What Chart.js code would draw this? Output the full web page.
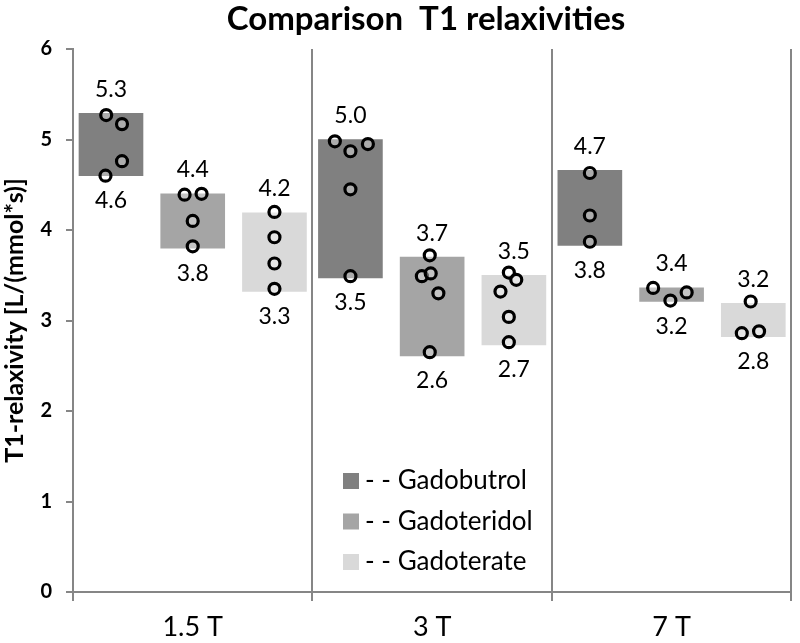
<!DOCTYPE html>
<html>
<head>
<meta charset="utf-8">
<script src="https://cdn.jsdelivr.net/npm/chart.js@4.4.0/dist/chart.umd.min.js"></script>
<style>
  html, body { margin: 0; padding: 0; background: #fff; }
  #wrap { width: 800px; height: 643px; }
</style>
</head>
<body>
<div id="wrap"><canvas id="myChart" width="800" height="643"></canvas></div>
<script>
const chartTitle = 'Comparison  T1 relaxivities';
const yTitle = 'T1-relaxivity [L/(mmol*s)]';
const fields = ['1.5 T', '3 T', '7 T'];
const agents = ['Gadobutrol', 'Gadoteridol', 'Gadoterate'];
const yRange = [0, 6];

// range of each bar (min / max) per field strength
const gadobutrolLow = [4.60, 3.47, 3.83];
const gadobutrolHigh = [5.29, 5.00, 4.66];
const gadoteridolLow = [3.80, 2.61, 3.21];
const gadoteridolHigh = [4.40, 3.70, 3.36];
const gadoterateLow = [3.32, 2.73, 2.82];
const gadoterateHigh = [4.19, 3.50, 3.19];

// single measurements (circles)
const gadobutrolPts = [[5.27, 5.17, 4.76, 4.60], [4.98, 4.87, 4.95, 4.45, 3.49], [4.63, 4.16, 3.87]];
const gadoteridolPts = [[4.39, 4.40, 4.10, 3.82], [3.72, 3.49, 3.52, 3.30, 2.65], [3.36, 3.22, 3.31]];
const gadoteratePts = [[4.20, 3.92, 3.63, 3.35], [3.53, 3.45, 3.32, 3.04, 2.76], [3.21, 2.86, 2.88]];
// sideways spread of the circles inside a bar (fraction of a category)
const gadobutrolJit = [[-0.02, 0.046, 0.046, -0.023], [-0.065, 0, 0.073, 0, 0], [0, 0, 0]];
const gadoteridolJit = [[-0.034, 0.037, 0, 0], [-0.01, -0.043, -0.006, 0.026, -0.01], [-0.077, -0.005, 0.063]];
const gadoterateJit = [[0, 0, 0, 0], [-0.021, 0.01, -0.056, -0.021, -0.021], [-0.011, -0.048, 0.024]];

const lows = [gadobutrolLow, gadoteridolLow, gadoterateLow];
const highs = [gadobutrolHigh, gadoteridolHigh, gadoterateHigh];
const points = [gadobutrolPts, gadoteridolPts, gadoteratePts];
const jitters = [gadobutrolJit, gadoteridolJit, gadoterateJit];

const colors = ['#808080', '#a5a5a5', '#d9d9d9'];
const slot = 1.024 / agents.length; // distance between bars of one group
const font = 'Lato, "Open Sans", sans-serif';

const datasets = [];
agents.forEach((name, j) => {
    datasets.push({
        type: 'bar',
        label: '- - ' + name,
        data: fields.map((f, i) => ({ x: i + (j - 1) * slot, y: [lows[j][i], highs[j][i]] })),
        backgroundColor: colors[j],
        borderWidth: 0,
        xAxisID: 'xp',
        grouped: false,
        barThickness: 64,
        order: 2
    });
});
agents.forEach((name, j) => {
    const pts = [];
    points[j].forEach((vals, i) => {
        vals.forEach((v, k) => {
            pts.push({ x: i + (j - 1) * slot + jitters[j][i][k], y: v });
        });
    });
    datasets.push({
        type: 'scatter',
        label: name + ' values',
        data: pts,
        xAxisID: 'xp',
        pointRadius: 5.5,
        pointBorderWidth: 3.2,
        pointBorderColor: '#000',
        pointBackgroundColor: 'rgba(255,255,255,0.35)',
        order: 1
    });
});

// min / max numbers, title and legend
const extras = {
    id: 'extras',
    afterDatasetsDraw(chart) {
        const ctx = chart.ctx;
        ctx.save();
        ctx.fillStyle = '#000';
        ctx.textAlign = 'center';
        ctx.textBaseline = 'middle';
        ctx.font = '23px ' + font;
        agents.forEach((name, j) => {
            const meta = chart.getDatasetMeta(j);
            meta.data.forEach((bar, i) => {
                const top = Math.min(bar.y, bar.base);
                const bottom = Math.max(bar.y, bar.base);
                ctx.fillText(highs[j][i].toFixed(1), bar.x, top - 24);
                ctx.fillText(lows[j][i].toFixed(1), bar.x, bottom + 25);
            });
        });
        ctx.restore();
    },
    afterDraw(chart) {
        const ctx = chart.ctx;
        ctx.save();
        ctx.fillStyle = '#000';
        ctx.textAlign = 'center';
        ctx.textBaseline = 'middle';
        ctx.font = 'bold 33px ' + font;
        ctx.fillText(chartTitle, 426, 19);

        ctx.textAlign = 'left';
        ctx.font = '26px ' + font;
        agents.forEach((name, j) => {
            const y = 481 + j * 40.5;
            ctx.fillStyle = colors[j];
            ctx.fillRect(343, y - 8, 16, 16);
            ctx.fillStyle = '#000';
            ctx.fillText('- - ' + name, 365, y);
        });
        ctx.restore();
    }
};

new Chart(document.getElementById('myChart'), {
    type: 'bar',
    data: { labels: fields, datasets: datasets },
    options: {
        responsive: false,
        devicePixelRatio: 1,
        animation: false,
        layout: { padding: { top: 49, right: 2, left: 0, bottom: 0 } },
        plugins: {
            legend: { display: false },
            title: { display: false },
            tooltip: { enabled: false }
        },
        scales: {
            x: {
                type: 'category',
                offset: true,
                grid: { offset: true, color: '#868686', lineWidth: 2, tickLength: 9, drawOnChartArea: true },
                border: { color: '#868686', width: 2 },
                ticks: { color: '#000', font: { family: font, size: 27 }, padding: 10 },
                afterFit: s => { s.height = 51; }
            },
            xp: {
                type: 'linear',
                min: -0.5,
                max: 2.5,
                offset: false,
                display: false
            },
            y: {
                min: yRange[0],
                max: yRange[1],
                ticks: { stepSize: 1, color: '#000', font: { family: font, size: 20, weight: 'bold' }, padding: 14 },
                grid: { drawOnChartArea: false, color: '#868686', lineWidth: 2, tickLength: 7 },
                border: { color: '#868686', width: 2 },
                title: { display: true, text: yTitle, color: '#000', font: { family: font, size: 25, weight: 'bold' }, padding: { top: 0, bottom: 0 } },
                afterFit: s => { s.width = 73; }
            }
        }
    },
    plugins: [extras]
});
</script>
</body>
</html>
